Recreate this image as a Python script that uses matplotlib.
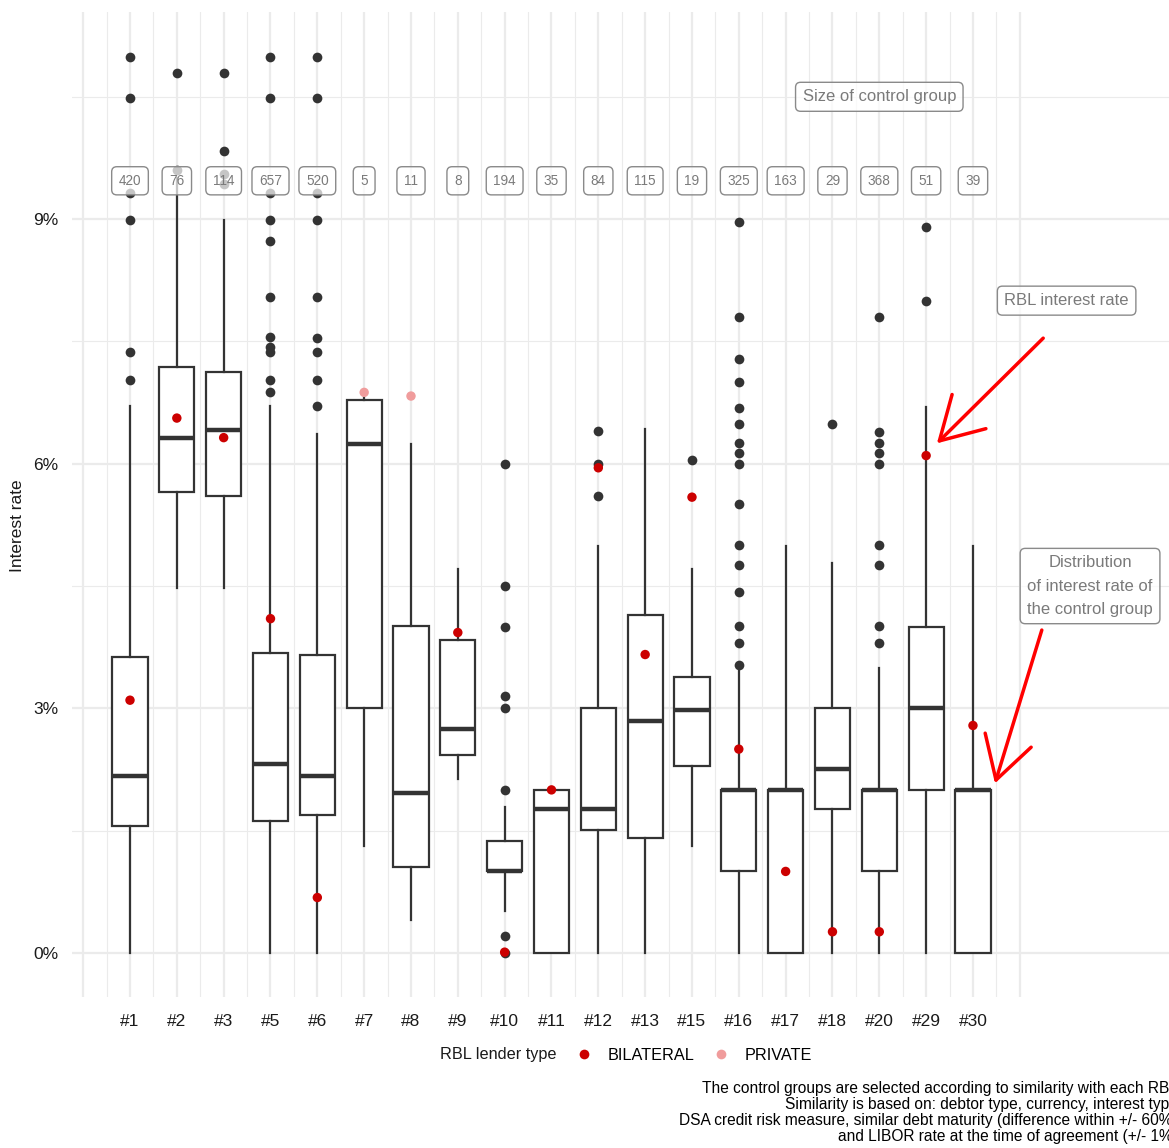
import numpy as np
import matplotlib
matplotlib.use("Agg")
import matplotlib.pyplot as plt
from matplotlib.lines import Line2D

plt.rcParams['font.family'] = ['Liberation Sans', 'DejaVu Sans']

# ---------------- data ----------------
groups = ["#1", "#2", "#3", "#5", "#6", "#7", "#8", "#9", "#10", "#11",
          "#12", "#13", "#15", "#16", "#17", "#18", "#20", "#29", "#30"]
group_size = [420, 76, 114, 657, 520, 5, 11, 8, 194, 35,
              84, 115, 19, 325, 163, 29, 368, 51, 39]
q1 = [1.56, 5.65, 5.60, 1.62, 1.69, 3.01, 1.06, 2.43, 1.00, 0.00,
      1.51, 1.41, 2.29, 1.00, 0.00, 1.76, 1.00, 2.00, 0.00]
median = [2.17, 6.31, 6.41, 2.32, 2.17, 6.24, 1.96, 2.75, 1.00, 1.76,
          1.76, 2.85, 2.98, 2.00, 2.00, 2.26, 2.00, 3.01, 2.00]
q3 = [3.63, 7.19, 7.13, 3.68, 3.65, 6.78, 4.01, 3.84, 1.37, 2.00,
      3.01, 4.15, 3.38, 2.00, 2.00, 3.01, 2.00, 4.00, 2.00]
whisker_low = [0.00, 4.47, 4.47, 0.00, 0.00, 1.31, 0.41, 2.13, 0.51, 0.00,
               0.00, 0.00, 1.31, 0.00, 0.00, 0.00, 0.00, 0.00, 0.00]
whisker_high = [6.71, 9.50, 8.99, 6.71, 6.36, 6.82, 6.24, 4.71, 1.79, 2.00,
                4.99, 6.43, 4.71, 3.46, 4.99, 4.78, 3.49, 6.69, 4.99]
outliers = [
    [10.99, 10.49, 9.32, 8.99, 7.37, 7.03],
    [10.79, 9.60],
    [10.79, 9.83, 9.55, 9.43],
    [10.99, 10.49, 9.32, 8.99, 8.73, 8.04, 7.56, 7.43, 7.37, 7.03, 6.88],
    [10.99, 10.49, 9.32, 8.99, 8.04, 7.54, 7.37, 7.03, 6.71],
    [],
    [],
    [],
    [6.00, 4.50, 4.00, 3.15, 3.01, 2.00, 0.21, 0.00],
    [],
    [6.40, 6.00, 5.60],
    [],
    [6.04],
    [8.97, 7.80, 7.29, 7.00, 6.68, 6.49, 6.25, 6.13, 6.00, 5.50, 5.00, 4.76,
     4.43, 4.01, 3.80, 3.53],
    [],
    [6.49],
    [7.80, 6.39, 6.26, 6.13, 6.00, 5.00, 4.76, 4.01, 3.80],
    [8.90, 7.99],
    [],
]
rbl_rate = [3.10, 6.56, 6.32, 4.10, 0.68, 6.875, 6.83, 3.93, 0.01, 2.00,
            5.95, 3.66, 5.59, 2.50, 1.00, 0.26, 0.26, 6.10, 2.79]
rbl_type = ["BILATERAL", "BILATERAL", "BILATERAL", "BILATERAL", "BILATERAL",
            "PRIVATE", "PRIVATE", "BILATERAL", "BILATERAL", "BILATERAL",
            "BILATERAL", "BILATERAL", "BILATERAL", "BILATERAL", "BILATERAL",
            "BILATERAL", "BILATERAL", "BILATERAL", "BILATERAL"]
type_levels = ["BILATERAL", "PRIVATE"]
type_colors = {"BILATERAL": "#CC0000", "PRIVATE": "#F09C9C"}

y_ticks = [0, 3, 6, 9]
y_tick_labels = ["0%", "3%", "6%", "9%"]

size_label_y = 9.47
size_title = "Size of control group"
size_title_pos = (16, 10.5)
note_rbl = "RBL interest rate"
note_rbl_pos = (20, 8.0)
arrow_rbl = ((19.5, 7.54), (17.23, 6.25))
note_dist = "Distribution\nof interest rate of\nthe control group"
note_dist_pos = (20.5, 4.5)
arrow_dist = ((19.47, 3.96), (18.47, 2.08))

caption = ("The control groups are selected according to similarity with each RBL.\n"
           "Similarity is based on: debtor type, currency, interest type,\n"
           "DSA credit risk measure, similar debt maturity (difference within +/- 60%),\n"
           "and LIBOR rate at the time of agreement (+/- 1%).")

# ---------------- figure ----------------
W, H = 1169, 1148
fig = plt.figure(figsize=(W / 100, H / 100), dpi=100)
ax = fig.add_axes([72 / W, (H - 997) / H, (W - 72) / W, (997 - 12) / H])
ax.set_xlim(-1.2385, 22.186)
ax.set_ylim(-0.54, 11.54)

for s in ax.spines.values():
    s.set_visible(False)

# grid
grid_col = "#EBEBEB"
for gx in np.arange(-1, 19.01, 0.5):
    major = abs(gx - round(gx)) < 1e-6
    ax.axvline(gx, color=grid_col, lw=1.6 if major else 0.8, zorder=0)
for gy in np.arange(0, 10.51, 1.5):
    major = abs(gy / 3 - round(gy / 3)) < 1e-6
    ax.axhline(gy, color=grid_col, lw=1.6 if major else 0.8, zorder=0)

positions = np.arange(len(groups))
stats = []
for i in range(len(groups)):
    stats.append(dict(med=median[i], q1=q1[i], q3=q3[i], whislo=whisker_low[i],
                      whishi=whisker_high[i], fliers=outliers[i], label=groups[i]))

box_col = "#333333"
ax.bxp(stats, positions=positions, widths=0.75, showcaps=False, patch_artist=True,
       boxprops=dict(facecolor="white", edgecolor=box_col, linewidth=1.6),
       whiskerprops=dict(color=box_col, linewidth=1.6),
       medianprops=dict(color=box_col, linewidth=3.2, solid_capstyle="butt"),
       flierprops=dict(marker="o", markerfacecolor=box_col, markeredgecolor="none",
                       markersize=7.0),
       zorder=2)

# RBL points
for t in type_levels:
    xs = [positions[i] for i in range(len(groups)) if rbl_type[i] == t]
    ys = [rbl_rate[i] for i in range(len(groups)) if rbl_type[i] == t]
    ax.scatter(xs, ys, s=46, color=type_colors[t], edgecolors="none", zorder=4)

# size labels
lab_col = "#7A7A7A"
for i in range(len(groups)):
    ax.text(positions[i], size_label_y, str(group_size[i]), ha="center", va="center",
            fontsize=9.8, color=lab_col, zorder=6,
            bbox=dict(boxstyle="round,pad=0.52,rounding_size=0.38", facecolor=(1, 1, 1, 0.72),
                      edgecolor="#8A8A8A", linewidth=1.0))

ax.text(size_title_pos[0], size_title_pos[1], size_title, ha="center", va="center",
        fontsize=12, color=lab_col, zorder=6,
        bbox=dict(boxstyle="round,pad=0.42,rounding_size=0.3", facecolor=(1, 1, 1, 0.72),
                  edgecolor="#8A8A8A", linewidth=1.0))
ax.text(note_rbl_pos[0], note_rbl_pos[1], note_rbl, ha="center", va="center",
        fontsize=12, color=lab_col, zorder=6,
        bbox=dict(boxstyle="round,pad=0.42,rounding_size=0.3", facecolor=(1, 1, 1, 0.72),
                  edgecolor="#8A8A8A", linewidth=1.0))
ax.text(note_dist_pos[0], note_dist_pos[1], note_dist, ha="center", va="center",
        fontsize=12, color=lab_col, zorder=6, linespacing=1.68,
        bbox=dict(boxstyle="round,pad=0.42,rounding_size=0.3", facecolor=(1, 1, 1, 0.72),
                  edgecolor="#8A8A8A", linewidth=1.0))

for (start, end) in (arrow_rbl, arrow_dist):
    ax.annotate("", xy=end, xytext=start,
                arrowprops=dict(arrowstyle="->,head_length=3.0,head_width=1.73",
                                mutation_scale=10, color="#FF0000", lw=2.5,
                                shrinkA=0, shrinkB=0),
                zorder=7)

# axes text
ax.set_xticks(positions)
ax.set_xticklabels(groups, fontsize=12.5, color="#1A1A1A")
ax.set_yticks(y_ticks)
ax.set_yticklabels(y_tick_labels, fontsize=12.5, color="#1A1A1A")
ax.tick_params(axis="both", length=0)
ax.tick_params(axis="x", pad=12.5)
ax.tick_params(axis="y", pad=10)
fig.text(18 / W, 1 - 526 / H, "Interest rate", rotation=90, ha="center", va="center",
         fontsize=12.5, color="#1A1A1A")

# legend
fig.text(440 / W, 1 - 1054 / H, "RBL lender type", ha="left", va="center",
         fontsize=11.7, color="#1A1A1A")
handles = [Line2D([], [], linestyle="none", marker="o", markersize=7.0,
                  markerfacecolor=type_colors[t], markeredgecolor="none") for t in type_levels]
fig.legend(handles, type_levels, loc="center", bbox_to_anchor=(694 / W, 1 - 1055 / H),
           ncol=2, frameon=False, fontsize=11.7, handlelength=1.0, handletextpad=0.95,
           columnspacing=1.1, borderpad=0, borderaxespad=0)

# caption
fig.text(1182 / W, 1 - 1081 / H, caption, ha="right", va="top", fontsize=11.2,
         color="#000000", linespacing=1.07)

fig.savefig("out.png", dpi=100)
